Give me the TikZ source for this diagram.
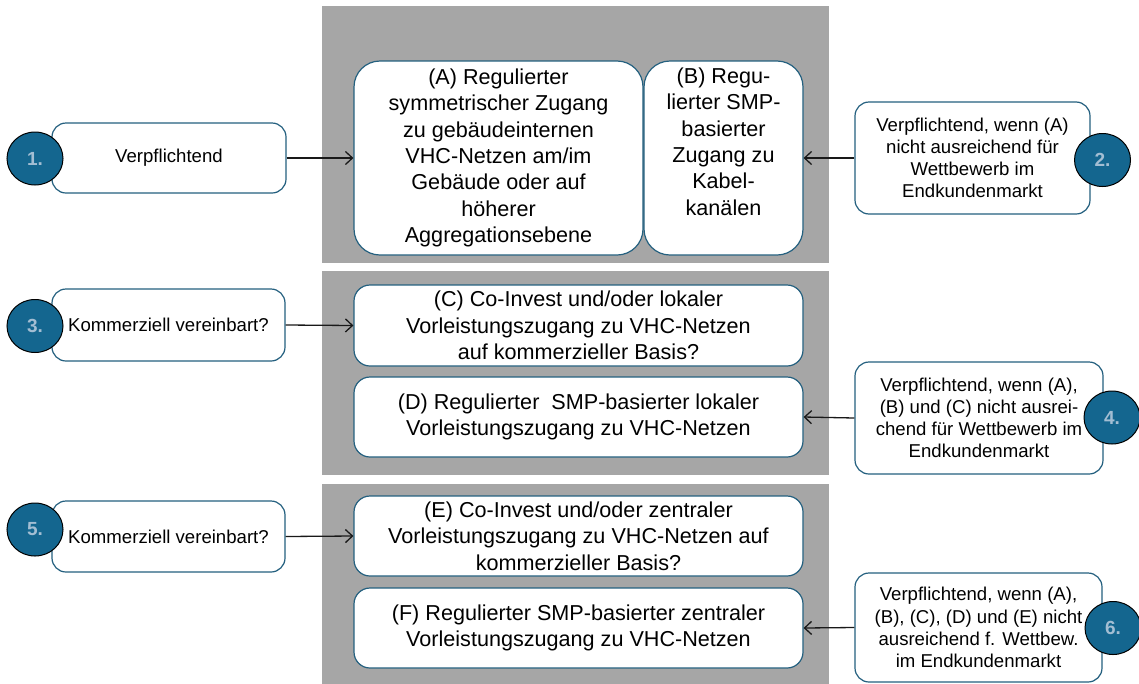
\documentclass[tikz,border=0pt]{standalone}
\usepackage{fontspec}
\setmainfont{Liberation Sans}
\usetikzlibrary{arrows.meta,shapes.geometric}
\definecolor{panelgray}{HTML}{A6A6A6}
\definecolor{boxblue}{HTML}{24607F}
\definecolor{numblue}{HTML}{14668F}
\definecolor{numtext}{HTML}{A3BED3}
\begin{document}
\begin{tikzpicture}[x=1pt,y=-1pt,
  panel/.style={fill=panelgray, draw=none},
  boxbase/.style={draw=boxblue, line width=1.2pt, fill=white, align=center, inner sep=1pt},
  sidebox/.style={boxbase, rounded corners=14pt, font=\fontsize{18.6}{22.2}\selectfont},
  midbox/.style={boxbase, rounded corners=16pt, font=\fontsize{21.6}{26.4}\selectfont},
  bigbox/.style={boxbase, rounded corners=26pt, font=\fontsize{21.6}{26.4}\selectfont},
  midtext/.style={align=center, inner sep=0pt, font=\fontsize{21.6}{26.4}\selectfont},
  numcirc/.style={ellipse, draw=black, line width=1pt, fill=numblue, text=numtext,
    minimum width=56pt, minimum height=53pt, inner sep=0pt,
    font=\bfseries\fontsize{19}{22}\selectfont},
  conn/.style={draw=black!90, line width=1.3pt, -{Straight Barb[length=7pt,width=13pt]}}
]
\useasboundingbox (0,0) rectangle (1139,683);
\fill[white] (0,0) rectangle (1139,683);

% grey panels
\path[panel] (322,6) rectangle (829,263);
\path[panel] (322,271) rectangle (829,475);
\path[panel] (322,484) rectangle (829,690);

% middle boxes
\node[bigbox, minimum width=289pt, minimum height=194pt] (A) at (498.5,158)
  {(A) Regulierter\\symmetrischer Zugang\\zu gebäudeinternen\\VHC-Netzen am/im\\Gebäude oder auf\\höherer\\Aggregationsebene};
\node[bigbox, minimum width=159pt, minimum height=194pt] (B) at (723.5,158) {};
\node[midtext] (Btext) at (723.5,141.5)
  {(B) Regu-\\lierter SMP-\\basierter\\Zugang zu\\Kabel-\\kanälen};
\node[midbox, minimum width=449pt, minimum height=81pt] (C) at (578.5,325.5)
  {(C) Co-Invest und/oder lokaler\\Vorleistungszugang zu VHC-Netzen\\auf kommerzieller Basis?};
\node[midbox, minimum width=449pt, minimum height=80pt] (D) at (578.5,417)
  {(D) Regulierter~ SMP-basierter lokaler\\Vorleistungszugang zu VHC-Netzen};
\node[midbox, minimum width=449pt, minimum height=80pt] (E) at (578.5,536)
  {(E) Co-Invest und/oder zentraler\\Vorleistungszugang zu VHC-Netzen auf\\kommerzieller Basis?};
\node[midbox, minimum width=449pt, minimum height=80pt] (F) at (578.5,628)
  {(F) Regulierter SMP-basierter zentraler\\Vorleistungszugang zu VHC-Netzen};

% left boxes
\node[sidebox, minimum width=234pt, minimum height=70pt] (L1) at (169,158) {Verpflichtend};
\node[sidebox, minimum width=233pt, minimum height=72pt] (L3) at (168.5,325) {Kommerziell vereinbart?};
\node[sidebox, minimum width=233pt, minimum height=71pt] (L5) at (168.5,536.5) {Kommerziell vereinbart?};

% right boxes
\node[sidebox, minimum width=235pt, minimum height=112pt] (R2) at (972.5,158)
  {Verpflichtend, wenn (A)\\nicht ausreichend für\\Wettbewerb im\\Endkundenmarkt};
\node[sidebox, minimum width=248pt, minimum height=112pt] (R4) at (979,418)
  {Verpflichtend, wenn (A),\\(B) und (C) nicht ausrei-\\chend für Wettbewerb im\\Endkundenmarkt};
\node[sidebox, minimum width=247pt, minimum height=109pt] (R6) at (978.5,627.5)
  {Verpflichtend, wenn (A),\\(B), (C), (D) und (E) nicht\\ausreichend f. Wettbew.\\im Endkundenmarkt};

% number circles
\node[numcirc] (N1) at (35,158.5) {1.};
\node[numcirc] (N3) at (35,326) {3.};
\node[numcirc] (N5) at (35,529.5) {5.};
\node[numcirc] (N2) at (1102.5,160) {2.};
\node[numcirc] (N4) at (1112,417.5) {4.};
\node[numcirc] (N6) at (1113,628) {6.};

% connectors
\draw[conn] (L1.east) -- (A.west);
\draw[conn] (L3.east) -- (C.west);
\draw[conn] (L5.east) -- (E.west);
\draw[conn] (R2.west) -- (B.east);
\draw[conn] (R4.west) -- (D.east);
\draw[conn] (R6.west) -- (F.east);
\end{tikzpicture}
\end{document}
